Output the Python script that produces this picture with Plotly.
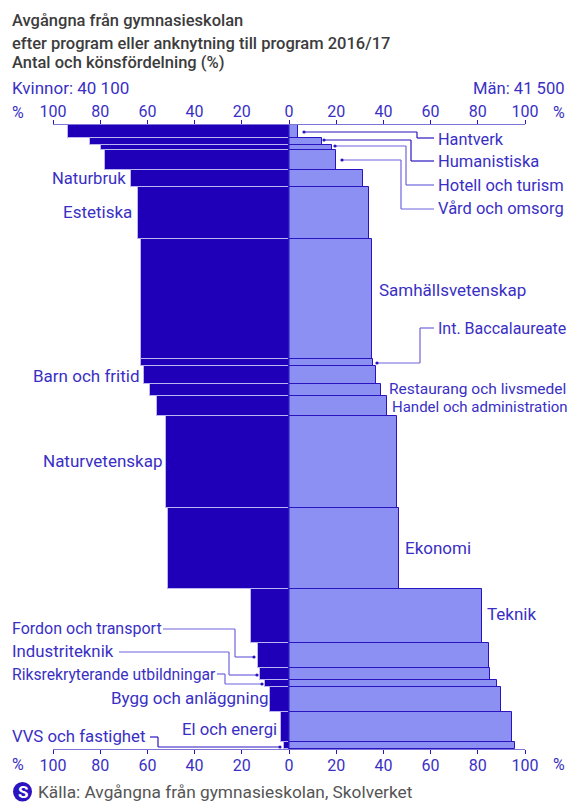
import plotly.graph_objects as go

programs = ["Hantverk","Humanistiska","Hotell och turism","Vård och omsorg","Naturbruk","Estetiska",
            "Samhällsvetenskap","Int. Baccalaureate","Barn och fritid","Restaurang och livsmedel",
            "Handel och administration","Naturvetenskap","Ekonomi","Teknik","Fordon och transport",
            "Industriteknik","Riksrekryterande utbildningar","Bygg och anläggning","El och energi","VVS och fastighet"]
antal = [1700, 915, 655, 2615, 2185, 6775, 15800, 875, 2395, 1530, 2615, 12030, 10590, 7100, 3230, 1570, 875, 3270, 3925, 955]
kvinnor = [93.5, 84.2, 79.8, 78, 66.8, 64, 62.8, 62.8, 61.3, 59, 56, 52, 51.3, 16, 13.3, 12.4, 10, 8.1, 3.4, 2.3]
man = [4.0, 13.8, 18.3, 20.1, 31.3, 34, 35.3, 35.6, 36.8, 39, 41.6, 45.9, 46.7, 81.8, 84.6, 85.2, 88.2, 89.8, 94.5, 95.6]
ticks = [-100,-80,-60,-40,-20,0,20,40,60,80,100]
ticklabels = ["100","80","60","40","20","0","20","40","60","80","100"]

W, H = 568, 803
L, R, T, B = 53, 525, 125, 749
DARK = "#1f00b8"; LIGHT = "#8c90f3"; LINE = "#2a14c0"; PALE = "#b9b6f2"; MID = "#6f64de"; AXIS = "#7d74d8"; TXT = "#3a2fc4"; GREY = "#3c3c3c"
FONT = "Roboto"
SZ = 16

def px(x): return (x - L) / (R - L)
def py(y): return (B - y) / (B - T)

centers, start = [], 0
for a in antal:
    centers.append(start + a / 2)
    start += a
total = start

fig = go.Figure()
fig.add_bar(y=centers, x=[-v for v in kvinnor], width=antal, orientation="h", name="Kvinnor", text=programs, textposition="none",
            marker=dict(color=DARK, line=dict(color=PALE, width=1)), showlegend=False, hoverinfo="text")
fig.add_bar(y=centers, x=man, width=antal, orientation="h", name="Män", text=programs, textposition="none",
            marker=dict(color=LIGHT, line=dict(color=LINE, width=1)), showlegend=False, hoverinfo="text")
fig.add_scatter(x=[0], y=[0], xaxis="x2", mode="markers", marker=dict(opacity=0), showlegend=False, hoverinfo="skip")

def axis(**kw):
    return dict(range=[-100, 100], tickmode="array", tickvals=ticks, ticktext=ticklabels, ticks="outside",
                ticklen=4, tickcolor=LINE, tickwidth=1, showline=True, linecolor=AXIS, linewidth=1, showgrid=False,
                zeroline=False, tickfont=dict(family=FONT, size=SZ, color=TXT), **kw)

shapes = [dict(type="line", xref="x", yref="paper", x0=0, x1=0, y0=0, y1=1.0, line=dict(color=LINE, width=1))]
def leader(points, color=LINE, dot=0):
    for (x0, y0), (x1, y1) in zip(points, points[1:]):
        shapes.append(dict(type="line", xref="paper", yref="paper", x0=px(x0), x1=px(x1), y0=py(y0), y1=py(y1),
                           line=dict(color=color, width=1.2)))
    x0, y0 = points[dot]
    shapes.append(dict(type="circle", xref="paper", yref="paper", x0=px(x0-1.6), x1=px(x0+1.6), y0=py(y0-1.6), y1=py(y0+1.6),
                       fillcolor=LINE, line=dict(width=0)))

leader([(304,132),(417,132),(417,138),(434,138)])
leader([(324,140),(411,140),(411,161),(434,161)])
leader([(335,146),(406,146),(406,185),(434,185)], MID)
leader([(342,160),(401,160),(401,209),(434,209)], MID)
leader([(377,363),(420,363),(420,328),(434,328)], MID)
leader([(163,629),(235,629),(235,657),(254,657)], MID, -1)
leader([(119,652),(229,652),(229,675),(257,675)], MID, -1)
leader([(217,674),(225,674),(225,684),(262,684)], MID, -1)
leader([(150,737),(158,737),(158,747),(280,747)], LINE, -1)

ann = []
def text(s, x, y, anchor="left", color=TXT, size=SZ, weight=None):
    f = dict(family=FONT, size=size, color=color)
    if weight:
        f["weight"] = weight
    ann.append(dict(text=s, xref="paper", yref="paper", x=px(x), y=py(y), xanchor=anchor, yanchor="middle",
                    showarrow=False, font=f, borderpad=0))
text("Avgångna från gymnasieskolan", 11, 21, color=GREY, size=16.5, weight=500)
text("efter program eller anknytning till program 2016/17", 11, 43, color=GREY, size=16.5, weight=500)
text("Antal och könsfördelning (%)", 11, 63, color=GREY, size=16.5, weight=500)
text("Kvinnor: 40 100", 11, 88, size=17)
text("Män: 41 500", 566, 88, "right", size=16.6)
text("%", 11, 112); text("%", 566, 112, "right")
text("%", 11, 764); text("%", 566, 764, "right")
text("Hantverk", 437, 139, size=16.3); text("Humanistiska", 437, 161, size=16.5); text("Hotell och turism", 437, 185, size=16.5); text("Vård och omsorg", 437, 209, size=16.5)
text("Naturbruk", 51, 178, size=16.6); text("Estetiska", 62, 212, size=17); text("Samhällsvetenskap", 378, 290, size=17)
text("Int. Baccalaureate", 437, 328); text("Barn och fritid", 32, 376, size=17)
text("Restaurang och livsmedel", 388, 389, size=15.5); text("Handel och administration", 391, 407, size=15)
text("Naturvetenskap", 42, 461, size=17); text("Ekonomi", 404, 548, size=17); text("Teknik", 486, 614, size=17)
text("Fordon och transport", 11, 628); text("Industriteknik", 11, 651, size=16.8); text("Riksrekryterande utbildningar", 11, 674, size=15.7)
text("Bygg och anläggning", 110, 698, size=17); text("El och energi", 181, 729, size=16.7); text("VVS och fastighet", 11, 736, size=16.8)
text("Källa: Avgångna från gymnasieskolan, Skolverket", 37, 792, color="#555555", size=17.3)
text("S", 22.5, 792, "center", color="#ffffff", size=17, weight=700)
shapes.append(dict(type="circle", xref="paper", yref="paper", x0=px(13), x1=px(32), y0=py(782), y1=py(801.5),
                   fillcolor=LINE, line=dict(width=0), layer="below"))

fig.update_layout(
    width=W, height=H, autosize=False, barmode="overlay", bargap=0, plot_bgcolor="white", paper_bgcolor="white",
    margin=dict(l=L, r=W-R, t=T, b=H-B, autoexpand=False),
    xaxis=axis(side="bottom", anchor="y", ticklabelstandoff=-2),
    xaxis2=axis(side="top", overlaying="x", anchor="y", ticklabelstandoff=-3),
    yaxis=dict(range=[total, 0], visible=False),
    shapes=shapes, annotations=ann, font=dict(family=FONT), showlegend=False,
)
fig.write_html("out.html", config=dict(displayModeBar=False),
               post_script="document.body.style.margin='0';document.body.style.overflow='hidden';")
